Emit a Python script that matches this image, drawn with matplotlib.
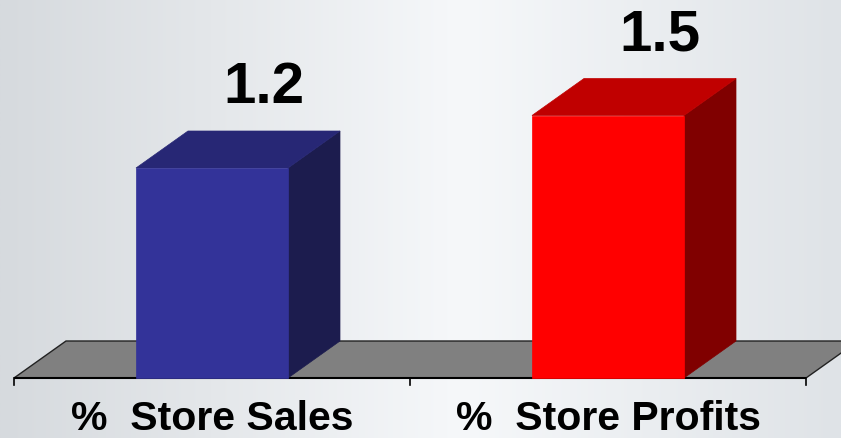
import numpy as np
import matplotlib
matplotlib.use("Agg")
import matplotlib.pyplot as plt
from matplotlib.patches import Polygon
from matplotlib.colors import LinearSegmentedColormap

# Data
categories = ["%  Store Sales", "%  Store Profits"]
values = [1.2, 1.5]
value_labels = ["1.2", "1.5"]

# Face colours for each bar: front, top, side
front_colors = ["#333399", "#ff0000"]
top_colors = ["#272775", "#c00000"]
side_colors = ["#1c1c4e", "#800000"]

plt.rcParams["font.family"] = ["Liberation Sans", "DejaVu Sans"]

W, H = 841, 438
fig = plt.figure(figsize=(W / 100, H / 100), dpi=100)
ax = fig.add_axes([0, 0, 1, 1])

# Axis scales: one category per 396 px, one value unit per 175 px
px_per_cat = 396.0
px_per_val = 175.0
x0_px, y0_px = 212.0, 378.0
xlim = ((0 - x0_px) / px_per_cat, (W - x0_px) / px_per_cat)
ylim = ((y0_px - H) / px_per_val, y0_px / px_per_val)
ax.set_xlim(*xlim)
ax.set_ylim(*ylim)
ax.axis("off")

# Depth of the 3D effect in data units
dx = 52 / px_per_cat
dy = 37 / px_per_val
half_w = 76 / px_per_cat

# Background gradient
bg = LinearSegmentedColormap.from_list(
    "bg", [(0.0, "#d6dade"), (0.25, "#e4e7ea"), (0.55, "#f6f8fa"), (1.0, "#dfe3e7")])
grad = np.linspace(0, 1, 512).reshape(1, -1)
ax.imshow(grad, cmap=bg, aspect="auto", extent=(xlim[0], xlim[1], ylim[0], ylim[1]),
          zorder=0, interpolation="bicubic")

# Floor
fx0, fx1 = -0.5, len(categories) - 0.5
floor = Polygon([(fx0, 0), (fx1, 0), (fx1 + dx, dy), (fx0 + dx, dy)],
                closed=True, facecolor="#808080", edgecolor="#222222", lw=1.0, zorder=1)
ax.add_patch(floor)
ax.plot([fx0, fx1], [0, 0], color="black", lw=1.5, zorder=2, solid_capstyle="butt")
for t in np.arange(fx0, fx1 + 0.01, 1.0):
    ax.plot([t, t], [0, -7 / px_per_val], color="black", lw=1.2, zorder=2)

# Bars
for i, v in enumerate(values):
    xl, xr = i - half_w, i + half_w
    side = Polygon([(xr, 0), (xr + dx, dy), (xr + dx, v + dy), (xr, v)],
                   closed=True, facecolor=side_colors[i], edgecolor=side_colors[i], lw=0.5, zorder=3)
    top = Polygon([(xl, v), (xr, v), (xr + dx, v + dy), (xl + dx, v + dy)],
                  closed=True, facecolor=top_colors[i], edgecolor=top_colors[i], lw=0.5, zorder=3)
    front = Polygon([(xl, 0), (xr, 0), (xr, v), (xl, v)],
                    closed=True, facecolor=front_colors[i], edgecolor=front_colors[i], lw=0.5, zorder=4)
    for p in (side, top, front):
        ax.add_patch(p)
    ax.text(i + dx, v + dy + 0.16, value_labels[i], ha="center", va="baseline",
            fontsize=42, fontweight="bold", color="black", zorder=5)
    ax.text(i, -0.297, categories[i], ha="center", va="baseline",
            fontsize=29.5, fontweight="bold", color="black", zorder=5)

fig.savefig("out.png", dpi=100)
